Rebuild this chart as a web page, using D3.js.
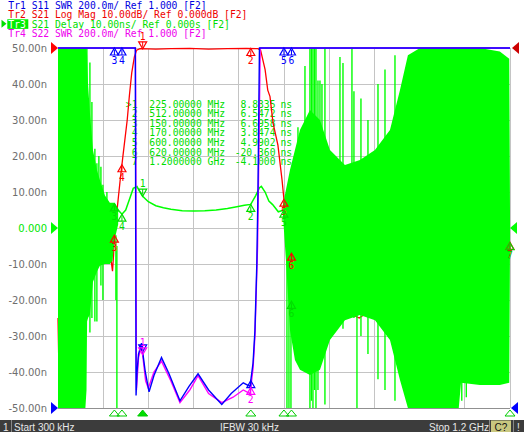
<!DOCTYPE html>
<html><head><meta charset="utf-8">
<script src="https://cdn.jsdelivr.net/npm/d3@7"></script>
<style>
html,body{margin:0;padding:0;background:#fff;overflow:hidden;}
svg{display:block;}
.mono{font-family:"DejaVu Sans Mono",monospace;font-size:9.7px;}
.tick{font-family:"DejaVu Sans",sans-serif;font-size:10px;}
.status{font-family:"Liberation Sans",Arial,sans-serif;font-size:10px;fill:#e8e8e8;}
</style></head><body>
<svg id="c" width="524" height="432"></svg>
<script>
// ---------- data ----------
const startMHz = 0.3, stopMHz = 1200;
const delayTicks = [50,40,30,20,10,0,-10,-20,-30,-40,-50];
const delayTickLabels = ["50.00n","40.00n","30.00n","20.00n","10.00n","0.000","-10.00n","-20.00n","-30.00n","-40.00n","-50.00n"];
const headerText = [
  "Tr1 S11 SWR 200.0m/ Ref 1.000 [F2]",
  "Tr2 S21 Log Mag 10.00dB/ Ref 0.000dB [F2]",
  "Tr3 S21 Delay 10.00ns/ Ref 0.000s [F2]",
  "Tr4 S22 SWR 200.0m/ Ref 1.000 [F2]"
];
const headerColors = ["#0000e0","#ee0000","#00dd00","#ee00ee"];
const markerNums = [1,2,3,4,5,6,7];
const markerMHz = [225,512,150,170,600,620,1200];
const markerFreqText = ["225.00000 MHz","512.00000 MHz","150.00000 MHz","170.00000 MHz","600.00000 MHz","620.00000 MHz","1.2000000 GHz"];
const markerDelayNs = [8.8335,6.5472,6.6958,3.8474,4.9902,-20.360,-4.1000];
const markerDelayText = ["8.8335","6.5472","6.6958","3.8474","4.9902","-20.360","-4.1000"];

// Tr1 S11 SWR [MHz, SWR]
const s11Swr = [[0.3,5],[200,5],[205.5,4],[207.5,1.07],[210,1.2],[214,1.3],[222,1.36],[232,1.2],[242,1.09],[255,1.18],[275,1.28],[295,1.19],[324,1.04],[348,1.12],[372,1.19],[400,1.1],[435,1.02],[460,1.08],[492,1.14],[510,1.12],[518,1.25],[523,1.43],[528,1.8],[531,2.2],[535,3.5],[540,5],[1200,5]];
// Tr4 S22 SWR [MHz, SWR]
const s22Swr = [[0.3,5],[200,5],[206,4],[208.5,1.1],[214,1.28],[222,1.35],[233,1.15],[240,1.11],[255,1.2],[275,1.26],[300,1.15],[324,1.03],[350,1.1],[372,1.18],[400,1.08],[435,1.03],[465,1.06],[492,1.1],[510,1.08],[518,1.22],[523,1.4],[530,1.9],[534,2.5],[537,3.2],[541,5],[1200,5]];
// Tr2 S21 log mag [MHz, dB]
const s21LogMag = [[0.3,-75],[2,-85],[5,-70],[20,-60],[60,-56],[93,-55],[120,-57],[140,-58],[145,-62],[148,-57],[150,-52],[160,-42],[165,-37],[172,-30.6],[184,-20],[190,-13],[196,-6.9],[203,-2.5],[209,-0.6],[218,-0.2],[260,-0.3],[300,-0.2],[350,-0.1],[400,-0.3],[450,-0.2],[500,-0.1],[531,-0.2],[538,-0.6],[550,-6],[557,-11.7],[563,-13.5],[571,-20.8],[584,-27],[595,-36.7],[600,-42],[608,-50],[620,-57],[650,-65],[700,-70],[800,-75],[1000,-60],[1200,-54]];
// Tr3 S21 group delay, passband [MHz, ns]
const s21DelayPass = [[150,6.7],[160,5],[170,3.85],[180,5],[190,8],[200,11],[210,11.5],[218,10],[225,8.83],[240,7.3],[260,6.2],[280,5.6],[300,5.2],[330,4.8],[360,4.7],[390,4.8],[420,5.0],[450,5.4],[475,5.9],[495,6.3],[512,6.55],[525,9],[535,11.2],[540,11.6],[550,10],[560,7.5],[570,6.5],[585,4.5],[600,4.99]];
// Tr3 out-of-band noise envelopes [MHz, upper ns, lower ns]
const s21DelayNoiseLeft = [[0.3,50,-50],[73,50,-50],[76,50,-45],[77.5,48,-26],[80,40,-25],[85,32,-24],[93,21.7,-15],[104,16,-12],[111.5,13.3,-10.5],[125,9,-10],[138,7,-10],[145,7,-9],[151,7,-3],[160,5,1]];
const s21DelayNoiseRight = [[597.3,6.4,3.6],[605.3,10.6,-8.9],[616,16.1,-28.3],[629.2,21.7,-36.7],[642.5,27.2,-39.4],[669,32.8,-40.8],[695.6,30,-39.4],[722.1,21.7,-31.1],[761.9,17.5,-25.6],[801.7,18.9,-24.2],[841.6,21.7,-25.6],[881.4,27.2,-31.1],[908,38.3,-42.2],[929,48,-50],[961,50,-50],[1014,50,-50],[1064,50,-50],[1070,50,-43],[1120,50,-43.6],[1173,49,-43.6],[1198,47,-43],[1200,5,-5]];
// Tr3 individual noise spikes [MHz, upper ns, lower ns]
const s21DelaySpikes = [[77,50,8],[85,46,-29],[90.3,35,-25],[98.2,22,-26],[103.5,18,-26],[108.8,20,-10],[114.2,17,-16],[119.5,12,-20],[130.1,10,-8],[154,-2,-20],[156.6,-5,-50],
 [608,5,-50],[613.3,0,-50],[618.6,8,-50],[637.2,28,-30],[655.8,45,-35],[669,50,-50],[673,50,-48],[677,50,-50],[681,50,-45],[685,50,-50],[690.3,41,-45],[695.6,41,-38],[700.9,40,-30],[708.8,50,-49],[748.7,47.5,-20],[756.7,45.8,-28],[780.5,50,-20],[785.8,38,-25],[793.8,10,-50],[804.4,36,-30],[823,30,-35],[849.6,40,-42],[868.2,44,-45],[894.7,48,-48],[1072,30,-48],[1084,30,-47]];
const statusStart = "Start 300 kHz", statusIfbw = "IFBW 30 kHz", statusStop = "Stop 1.2 GHz";

// ---------- scales ----------
const L = 58, R = 510, T = 48, B = 408;
const x = d3.scaleLinear().domain([startMHz, stopMHz]).range([L, R]);
const yDelay = d3.scaleLinear().domain([-50, 50]).range([B, T]).clamp(true);
const yDb = d3.scaleLinear().domain([-100, 0]).range([B, T]).clamp(true);
const ySwr = d3.scaleLinear().domain([1, 3]).range([B, T]).clamp(true);

const svg = d3.select("#c");
svg.append("rect").attr("width",524).attr("height",432).attr("fill","#fff");
svg.append("defs").append("clipPath").attr("id","plot")
  .append("rect").attr("x",L-1).attr("y",T-1).attr("width",R-L+2).attr("height",B-T+2);

// grid
const grid = svg.append("g").attr("shape-rendering","crispEdges");
d3.range(11).forEach(i => {
  const xv = x(startMHz + i*(stopMHz-startMHz)/10);
  grid.append("line").attr("x1",xv).attr("x2",xv).attr("y1",T).attr("y2",B).attr("stroke","#c4c4c4");
});
delayTicks.forEach(v => {
  grid.append("line").attr("x1",L).attr("x2",R).attr("y1",yDelay(v)).attr("y2",yDelay(v)).attr("stroke","#c4c4c4");
});
grid.append("line").attr("x1",L).attr("x2",R).attr("y1",B).attr("y2",B).attr("stroke","#909090");

// marker table (under traces)
const tbl = svg.append("g").attr("class","mono").attr("fill","#00dd00");
markerNums.forEach((n,i) => {
  const by = 107.5 + i*9.6;
  tbl.append("text").attr("x",137.5).attr("y",by).attr("text-anchor","end").text(i===0 ? ">"+n : ""+n);
  tbl.append("text").attr("x",149.3).attr("y",by).text(markerFreqText[i]);
  tbl.append("text").attr("x",275.5).attr("y",by).attr("text-anchor","end").text(markerDelayText[i]);
  tbl.append("text").attr("x",280.5).attr("y",by).text("ns");
});

const traces = svg.append("g").attr("clip-path","url(#plot)");
const lineOf = ys => d3.line().x(d => x(d[0])).y(d => ys(d[1]));

// Tr2 red (under green)
traces.append("path").datum(s21LogMag).attr("d", lineOf(yDb)).attr("fill","none").attr("stroke","#ff0000").attr("stroke-width",1.3);

// Tr3 green noise
const area = d3.area().x(d => x(d[0])).y0(d => yDelay(d[2])).y1(d => yDelay(d[1]));
traces.append("path").datum(s21DelayNoiseLeft).attr("d", area).attr("fill","#00ff00");
traces.append("path").datum(s21DelayNoiseRight).attr("d", area).attr("fill","#00ff00");
traces.selectAll("line.spk").data(s21DelaySpikes).enter().append("line")
  .attr("x1", d => x(d[0])).attr("x2", d => x(d[0]))
  .attr("y1", d => yDelay(d[1])).attr("y2", d => yDelay(d[2]))
  .attr("stroke","#00ff00").attr("stroke-width",1.4);
traces.append("path").datum(s21DelayPass).attr("d", lineOf(yDelay)).attr("fill","none").attr("stroke","#00ff00").attr("stroke-width",1.5);

// Tr4 magenta, Tr1 blue
traces.append("path").datum(s22Swr).attr("d", lineOf(ySwr)).attr("fill","none").attr("stroke","#ff00ff").attr("stroke-width",1.4);
traces.append("path").datum(s11Swr).attr("d", lineOf(ySwr)).attr("fill","none").attr("stroke","#0000ff").attr("stroke-width",1.4);

// ---------- markers ----------
function interp(arr, f) {
  for (let i = 0; i < arr.length-1; i++) {
    if (f >= arr[i][0] && f <= arr[i+1][0]) {
      const t = (f-arr[i][0])/(arr[i+1][0]-arr[i][0]);
      return arr[i][1] + t*(arr[i+1][1]-arr[i][1]);
    }
  }
  return arr[arr.length-1][1];
}
const mk = svg.append("g");
function drawMarker(cx, cy, num, color, active, showLabel) {
  if (active) {
    mk.append("path").attr("d",`M${cx-4},${cy-7}L${cx+4},${cy-7}L${cx},${cy}Z`).attr("fill","none").attr("stroke",color).attr("stroke-width",1.2);
    mk.append("line").attr("x1",cx).attr("x2",cx).attr("y1",cy-7).attr("y2",cy-2).attr("stroke",color);
    if (showLabel) mk.append("text").attr("class","mono").attr("x",cx).attr("y",cy-9).attr("text-anchor","middle").attr("fill",color).text(num);
  } else {
    mk.append("path").attr("d",`M${cx},${cy}L${cx+4},${cy+7}L${cx-4},${cy+7}Z`).attr("fill","none").attr("stroke",color).attr("stroke-width",1.2);
    mk.append("line").attr("x1",cx).attr("x2",cx).attr("y1",cy+2).attr("y2",cy+7).attr("stroke",color);
    if (showLabel) mk.append("text").attr("class","mono").attr("x",cx).attr("y",cy+16).attr("text-anchor","middle").attr("fill",color).text(num);
  }
}
// red Tr2
markerNums.forEach((n,i) => drawMarker(x(markerMHz[i]), yDb(interp(s21LogMag, markerMHz[i])), n, "#ff0000", i===0, true));
// green Tr3
markerNums.forEach((n,i) => drawMarker(x(markerMHz[i]), yDelay(markerDelayNs[i]), n, "#00dd00", i===0, true));
// blue Tr1 (labels for 1,2 hidden under Tr4's), then magenta Tr4
markerNums.slice(0,6).forEach((n,i) => drawMarker(x(markerMHz[i]), ySwr(interp(s11Swr, markerMHz[i])), n, "#0000ff", i===0, i>=2));
markerNums.slice(0,2).forEach((n,i) => drawMarker(x(markerMHz[i]), ySwr(interp(s22Swr, markerMHz[i])), n, "#ff00ff", i===0, true));

// stimulus indicators for active trace
markerNums.forEach((n,i) => {
  const cx = x(markerMHz[i]);
  svg.append("path").attr("d",`M${cx},${410}L${cx+5},${416}L${cx-5},${416}Z`)
    .attr("fill", i===0 ? "#00dd00" : "none").attr("stroke","#00cc00").attr("stroke-width",1);
});

// reference triangles
function tri(ax, ay, dir, color) {
  const bx = ax - dir*7;
  svg.append("path").attr("d",`M${ax},${ay}L${bx},${ay-6}L${bx},${ay+6}Z`).attr("fill",color);
}
tri(L, yDb(0), 1, "#ff0000");
tri(L, yDelay(0), 1, "#00ff00");
tri(L, ySwr(1), 1, "#0000ff");
tri(R+2, yDb(0), -1, "#cc0000");
tri(R, yDelay(0), -1, "#00ff00");
tri(R+1, ySwr(1), -1, "#0000ff");

// y tick labels
const tk = svg.append("g").attr("class","tick");
delayTicks.forEach((v,i) => {
  tk.append("text").attr("x",47).attr("y",yDelay(v)+4.3).attr("text-anchor","end")
    .attr("fill", v===0 ? "#00e600" : "#6e6e6e").text(delayTickLabels[i]);
});

// header
const hd = svg.append("g").attr("class","mono");
headerText.forEach((t,i) => {
  const by = 9 + i*9.43;
  if (i === 2) {
    svg.append("path").attr("d",`M1.5,${by-8}L6.5,${by-4}L1.5,${by}Z`).attr("fill","#00dd00");
    hd.append("rect").attr("x",7.3).attr("y",by-8.6).attr("width",21).attr("height",9.6).attr("fill","#00ee00");
    const tx = hd.append("text").attr("x",8.3).attr("y",by).attr("xml:space","preserve");
    tx.append("tspan").attr("fill","#ffffff").text(t.slice(0,3));
    tx.append("tspan").attr("fill",headerColors[i]).text(t.slice(3));
  } else {
    hd.append("text").attr("x",8.3).attr("y",by).attr("fill",headerColors[i]).attr("xml:space","preserve").text(t);
  }
});

// status bar
const sb = svg.append("g");
sb.append("rect").attr("x",0).attr("y",420).attr("width",524).attr("height",12).attr("fill","#3c3c3c");
[11, 489, 513].forEach(sx => sb.append("line").attr("x1",sx+0.5).attr("x2",sx+0.5).attr("y1",420).attr("y2",432).attr("stroke","#888"));
sb.append("rect").attr("x",491).attr("y",420.5).attr("width",20).attr("height",11.5).attr("fill","#c9c77f");
sb.append("text").attr("class","status").attr("x",3).attr("y",430.5).text("1");
sb.append("text").attr("class","status").attr("x",14).attr("y",430.5).text(statusStart);
sb.append("text").attr("class","status").attr("x",220).attr("y",430.5).text(statusIfbw);
sb.append("text").attr("class","status").attr("x",429).attr("y",430.5).text(statusStop);
sb.append("text").attr("class","status").attr("x",494.5).attr("y",430.5).style("fill","#111").text("C?");
sb.append("text").attr("class","status").attr("x",517).attr("y",430.5).text("!");
</script></body></html>
